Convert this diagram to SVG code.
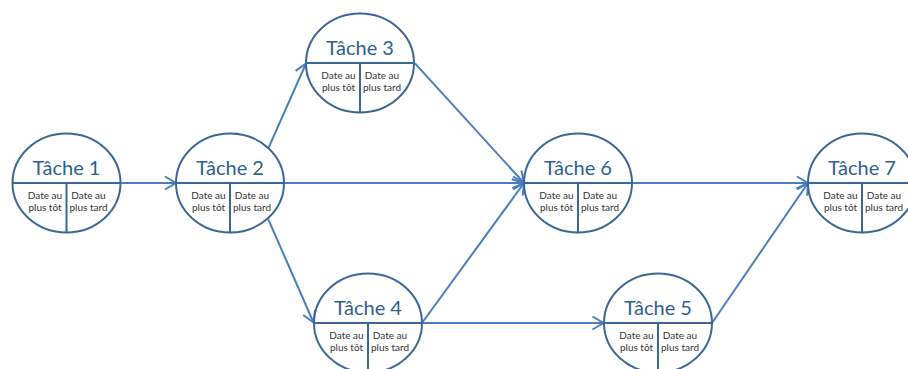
<svg xmlns="http://www.w3.org/2000/svg" width="908" height="369" viewBox="0 0 908 369">
  <style>
    .shape { fill: #ffffff; stroke: #3b6797; stroke-width: 2; }
    .div { stroke: #3b6797; stroke-width: 2; fill: none; }
    .title { font-family: Lato, "Liberation Sans", sans-serif; font-size: 20px; fill: #2f5e91; text-anchor: middle; }
    .cell { font-family: Lato, "Liberation Sans", sans-serif; font-size: 10px; fill: #333333; text-anchor: middle; }
    .edge { stroke: #4a7ebb; stroke-width: 2; fill: none; marker-end: url(#arrow); }
  </style>
  <defs>
    <marker id="arrow" markerUnits="userSpaceOnUse" viewBox="-13 -8 15 16" refX="0" refY="0" markerWidth="15" markerHeight="16" orient="auto">
      <path d="M-11,-6.5 L0,0 L-11,6.5" fill="none" stroke="#4a7ebb" stroke-width="2"/>
    </marker>
    <!-- shared body of a task node: outline, split lines and the two date cells -->
    <g id="node-body">
      <ellipse class="shape" cx="0" cy="0" rx="54" ry="49.5"/>
      <line class="div" x1="-54" y1="0" x2="54" y2="0"/>
      <line class="div" x1="0" y1="0" x2="0" y2="49.5"/>
      <text class="cell" x="-21.5" y="15.5">Date au</text>
      <text class="cell" x="-21.5" y="28">plus tôt</text>
      <text class="cell" x="22" y="15.5">Date au</text>
      <text class="cell" x="22" y="28">plus tard</text>
    </g>
  </defs>

  <g id="connectors">
    <line class="edge" x1="121" y1="183" x2="176" y2="183"/>
    <line class="edge" x1="268.3" y1="148.3" x2="306" y2="63.5"/>
    <line class="edge" x1="284" y1="183" x2="524" y2="183"/>
    <line class="edge" x1="268.3" y1="219.3" x2="313.5" y2="322.5"/>
    <line class="edge" x1="415" y1="63.3" x2="524" y2="183"/>
    <line class="edge" x1="422" y1="323" x2="524" y2="183"/>
    <line class="edge" x1="422" y1="323" x2="603.5" y2="323"/>
    <line class="edge" x1="632" y1="183" x2="808" y2="183"/>
    <line class="edge" x1="712" y1="323" x2="808" y2="183"/>
  </g>

  <g id="tache1" transform="translate(66.5,183)">
    <use href="#node-body"/>
    <text class="title" x="0" y="-8">Tâche 1</text>
  </g>
  <g id="tache2" transform="translate(230,183)">
    <use href="#node-body"/>
    <text class="title" x="0" y="-8">Tâche 2</text>
  </g>
  <g id="tache3" transform="translate(360,63)">
    <use href="#node-body"/>
    <text class="title" x="0" y="-8">Tâche 3</text>
  </g>
  <g id="tache4" transform="translate(368,323)">
    <use href="#node-body"/>
    <text class="title" x="0" y="-8">Tâche 4</text>
  </g>
  <g id="tache5" transform="translate(658,323)">
    <use href="#node-body"/>
    <text class="title" x="0" y="-8">Tâche 5</text>
  </g>
  <g id="tache6" transform="translate(578,183)">
    <use href="#node-body"/>
    <text class="title" x="0" y="-8">Tâche 6</text>
  </g>
  <g id="tache7" transform="translate(862,183)">
    <use href="#node-body"/>
    <text class="title" x="0" y="-8">Tâche 7</text>
  </g>
</svg>
